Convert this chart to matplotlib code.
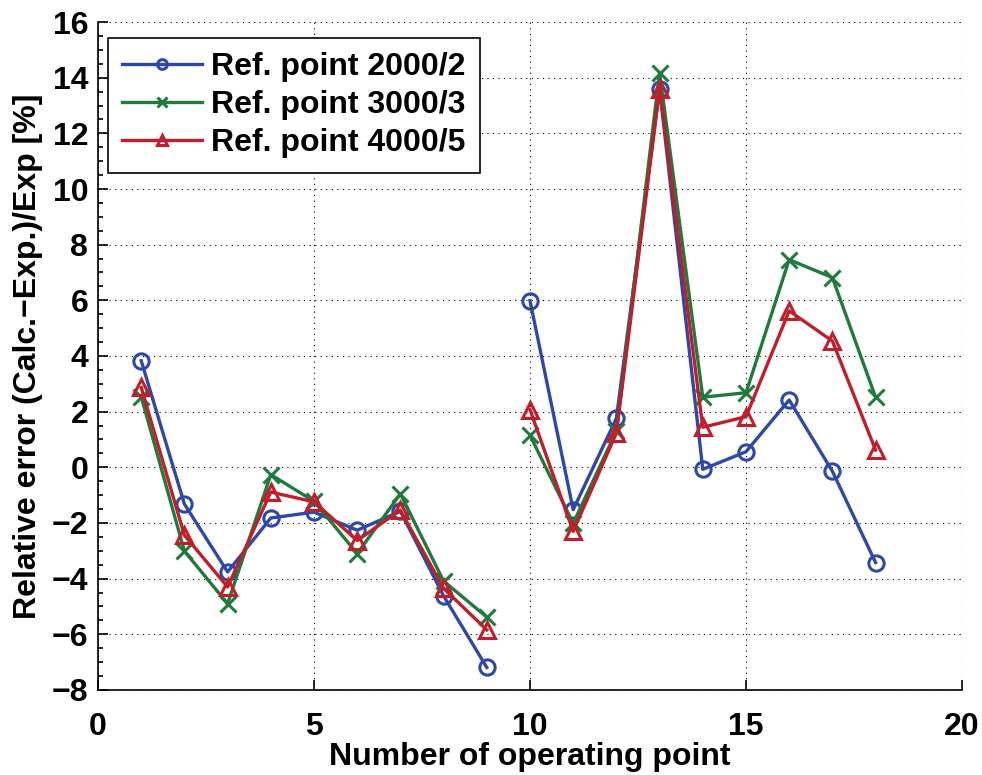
import numpy as np
import matplotlib
matplotlib.use('Agg')
import matplotlib.pyplot as plt
from matplotlib.ticker import MultipleLocator

# operating points 1..9 and 10..18 are two separate runs (gap between them)
op_a = [1, 2, 3, 4, 5, 6, 7, 8, 9]
op_b = [10, 11, 12, 13, 14, 15, 16, 17, 18]

ref2000_a = [3.83, -1.32, -3.76, -1.82, -1.61, -2.26, -1.58, -4.62, -7.19]
ref2000_b = [5.99, -1.52, 1.76, 13.6, -0.07, 0.56, 2.42, -0.14, -3.42]

ref3000_a = [2.54, -3.01, -4.9, -0.26, -1.22, -3.1, -0.95, -4.09, -5.38]
ref3000_b = [1.15, -2.01, 1.30, 14.18, 2.52, 2.68, 7.46, 6.82, 2.52]

ref4000_a = [2.87, -2.44, -4.30, -0.89, -1.24, -2.63, -1.54, -4.35, -5.84]
ref4000_b = [2.07, -2.30, 1.23, 13.6, 1.44, 1.82, 5.62, 4.54, 0.62]

series = [
    ('Ref. point 2000/2', ref2000_a, ref2000_b, '#2d48a8', 'o'),
    ('Ref. point 3000/3', ref3000_a, ref3000_b, '#1e7b3c', 'x'),
    ('Ref. point 4000/5', ref4000_a, ref4000_b, '#c21e2a', '^'),
]

FS = 23

plt.rcParams['font.family'] = 'Liberation Sans'
plt.rcParams['font.weight'] = 'bold'

fig = plt.figure(figsize=(9.82, 7.75), dpi=100)
ax = fig.add_axes([0.0998, 0.1097, 0.8798, 0.8619])

for label, ya, yb, col, mk in series:
    kw = dict(color=col, marker=mk, linewidth=2.4, markersize=11,
              markeredgewidth=2.2, markerfacecolor='none', markeredgecolor=col)
    ax.plot(op_a, ya, label=label, **kw)
    ax.plot(op_b, yb, **kw)

ax.set_xlim(0, 20)
ax.set_ylim(-8, 16)
ax.xaxis.set_major_locator(MultipleLocator(5))
ax.yaxis.set_major_locator(MultipleLocator(2))
ax.yaxis.set_minor_locator(MultipleLocator(0.5))
ax.tick_params(which='both', direction='in', labelsize=FS, width=1.2)
ax.tick_params(which='major', length=7)
ax.tick_params(which='minor', length=3.5)
ax.tick_params(axis='x', pad=16)
ax.tick_params(axis='y', pad=7)
for lbl in ax.get_xticklabels() + ax.get_yticklabels():
    lbl.set_fontweight('bold')

ax.spines['top'].set_visible(False)
ax.spines['right'].set_visible(False)
ax.spines['left'].set_linewidth(1.2)
ax.spines['bottom'].set_linewidth(1.2)

ax.grid(True, which='major', color='black', linestyle=(0, (1, 4)), linewidth=0.8)

ax.set_xlabel('Number of operating point', fontsize=FS, fontweight='bold', labelpad=0)
ax.set_ylabel('Relative error (Calc.\u2212Exp.)/Exp [%]', fontsize=FS, fontweight='bold', labelpad=6)

leg = ax.legend(loc='upper left', bbox_to_anchor=(0.0116, 0.976), frameon=True,
                fancybox=False, edgecolor='black', framealpha=1, handlelength=2.5,
                borderaxespad=0, borderpad=0.45, labelspacing=0.25,
                handletextpad=0.28, prop={'weight': 'bold', 'size': FS})
leg.get_frame().set_linewidth(1.2)
for h in leg.legend_handles:
    h.set_markersize(7)

fig.savefig('out.png', dpi=100)
